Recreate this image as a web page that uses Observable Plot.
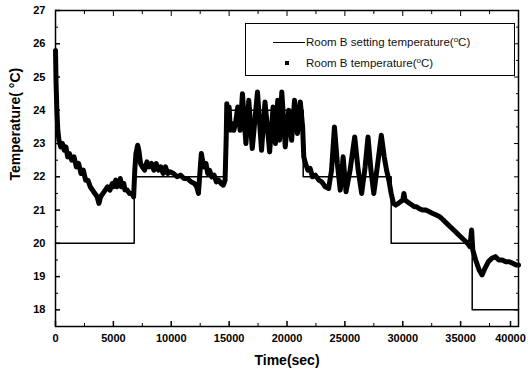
<!DOCTYPE html>
<html><head><meta charset="utf-8">
<script src="https://cdn.jsdelivr.net/npm/d3@7"></script>
<script src="https://cdn.jsdelivr.net/npm/@observablehq/plot@0.6"></script>
<style>
body{margin:0;background:#fff;}
#wrap{position:relative;width:528px;height:378px;font-family:"Liberation Sans",Arial,sans-serif;overflow:hidden;}
#legend{position:absolute;left:245px;top:23px;width:270px;height:53px;border:1.5px solid #000;box-sizing:border-box;background:#fff;font-size:11.5px;color:#111;}
.row{position:absolute;left:0;height:14px;line-height:14px;white-space:nowrap;}
.lbl{position:absolute;left:60px;top:0;}
.lbl sup{font-size:8px;vertical-align:4px;line-height:0;}
.smp{position:absolute;left:27px;top:7px;width:32px;border-top:1px solid #000;}
.mk{position:absolute;left:39px;top:5px;width:4px;height:4px;background:#000;}
</style>
</head><body>
<div id="wrap"></div>
<script>
// Setting temperature (step function)
const setTime = [0, 6800, 14700, 21400, 29000, 36000, 40000];
const setTemp = [20, 22, 24, 22, 20, 18, 18];

// Measured room temperature
const roomTime = [0,50,120,200,300,450,600,750,900,1050,1200,1400,1600,1800,2000,2200,2400,2600,2800,3000,3200,3400,3600,3750,3900,4100,4300,4500,4700,4900,5000,5200,5300,5500,5600,5700,5900,6000,6200,6400,6600,6750,
6850,6950,7100,7200,7350,7500,7700,7900,8100,8300,8500,8700,8900,9100,9300,9500,9700,9900,10200,10500,10800,11100,11400,11700,12000,12200,12350,12450,12600,12700,12850,13000,13150,13300,13500,13700,13900,14100,14300,14500,14650,
14750,14800,14900,15000,15100,15250,15400,15550,15750,15950,16150,16450,16700,17000,17450,17800,18100,18500,18800,19000,19200,19350,19550,19850,20150,20400,20650,20900,21150,21350,
21450,21600,21800,22000,22200,22450,22750,23000,23300,23600,23850,24100,24350,24600,24850,25100,25450,25850,26150,26450,26750,27000,27250,27500,27800,28150,28400,28600,28800,29000,29200,29400,29600,29800,30000,30100,30200,30400,30600,30800,31000,31200,31400,31700,32000,32300,32600,32900,33200,33500,33800,34100,34400,34700,35000,35300,35600,35800,35950,36050,36300,36600,36850,37100,37400,37700,38000,38300,38600,38900,39200,39500,39800,40000];
const roomTemp = [25.8,24.8,24.0,23.4,23.1,22.9,23.0,22.8,22.9,22.6,22.7,22.5,22.6,22.3,22.4,22.1,22.2,21.9,21.9,21.7,21.6,21.5,21.4,21.2,21.4,21.5,21.6,21.7,21.6,21.8,21.7,21.9,21.7,21.8,21.95,21.7,21.8,21.6,21.6,21.5,21.5,21.4,
22.2,22.7,22.95,22.8,22.4,22.3,22.2,22.45,22.3,22.4,22.2,22.4,22.2,22.3,22.1,22.3,22.1,22.15,22.1,22.0,22.05,21.95,21.95,21.85,21.8,21.7,21.5,22.0,22.7,22.5,22.3,22.4,22.1,22.2,22.0,22.05,21.85,21.9,21.8,21.75,21.9,
23.2,24.2,23.6,24.1,23.4,23.6,23.4,23.6,24.1,23.4,24.5,23.0,24.3,22.85,24.55,22.8,24.25,22.75,24.1,23.0,24.3,23.1,24.55,22.9,24.0,23.1,24.3,23.3,24.25,23.5,
22.6,22.4,22.2,22.25,22.0,22.05,21.9,21.85,21.7,21.65,22.2,23.5,22.4,21.6,22.6,21.55,22.2,23.2,22.2,21.5,22.3,23.2,22.2,21.5,22.3,23.25,22.6,22.2,21.9,21.5,21.2,21.15,21.2,21.25,21.3,21.5,21.3,21.25,21.2,21.15,21.1,21.1,21.05,21.0,21.0,20.95,20.9,20.85,20.8,20.7,20.6,20.5,20.4,20.3,20.2,20.1,20.0,19.9,20.4,19.8,19.5,19.2,19.05,19.25,19.45,19.55,19.6,19.5,19.5,19.45,19.45,19.4,19.35,19.35];

// Ticks
const xMajor = [0,5000,10000,15000,20000,25000,30000,35000,40000];
const xMinor = [2500,7500,12500,17500,22500,27500,32500,37500];
const yMajor = [18,19,20,21,22,23,24,25,26,27];
const yMinor = [17.5,18.5,19.5,20.5,21.5,22.5,23.5,24.5,25.5,26.5];

const setData = setTime.map((t,i)=>({t, v:setTemp[i]}));
const roomData = roomTime.map((t,i)=>({t, v:roomTemp[i]}));
const blank = () => "";

const chart = Plot.plot({
  width: 528, height: 378,
  marginLeft: 55, marginRight: 10, marginTop: 10, marginBottom: 52,
  style: {fontFamily: "'Liberation Sans', Arial, sans-serif", fontSize: "11px", fontWeight: "bold", color: "#000", background: "#fff"},
  x: {domain: [0, 40000]},
  y: {domain: [17.5, 27]},
  marks: [
    Plot.line(roomData, {x: "t", y: "v", stroke: "#000", strokeWidth: 5, strokeLinejoin: "round"}),
    Plot.line(setData, {x: "t", y: "v", curve: "step-after", stroke: "#000", strokeWidth: 1.5}),
    Plot.axisX({ticks: xMajor.slice(0, -1), tickSize: -5, tickPadding: 13, tickFormat: d => String(d), label: null, strokeWidth: 1.5}),
    Plot.axisX({ticks: xMajor.slice(-1), tickSize: -5, tickPadding: 13, tickFormat: d => String(d), label: null, strokeWidth: 1.5, dx: -8}),
    Plot.axisX({ticks: xMinor, tickSize: -3, tickFormat: blank, label: null}),
    Plot.axisX({ticks: xMajor, anchor: "top", tickSize: -5, tickFormat: blank, label: null}),
    Plot.axisX({ticks: xMinor, anchor: "top", tickSize: -3, tickFormat: blank, label: null}),
    Plot.axisY({ticks: yMajor, tickSize: -5, tickPadding: 15, tickFormat: d => String(d), label: null, strokeWidth: 1.5}),
    Plot.axisY({ticks: yMinor, tickSize: -3, tickFormat: blank, label: null}),
    Plot.axisY({ticks: yMajor, anchor: "right", tickSize: -5, tickFormat: blank, label: null}),
    Plot.axisY({ticks: yMinor, anchor: "right", tickSize: -3, tickFormat: blank, label: null}),
    Plot.frame({stroke: "#000", strokeWidth: 1.5}),
    Plot.text(["Time(sec)"], {frameAnchor: "bottom", dy: 38, fontSize: 14, fontWeight: "bold"}),
    Plot.text(["Temperature( °C)"], {frameAnchor: "left", dx: -40, dy: 12, rotate: -90, fontSize: 14, fontWeight: "bold"})
  ]
});
const wrap = document.getElementById("wrap");
wrap.appendChild(chart);
const leg = document.createElement("div");
leg.id = "legend";
leg.innerHTML = `<div class="row" style="top:11px"><div class="smp"></div><div class="lbl">Room B setting temperature(<sup>o</sup>C)</div></div>
<div class="row" style="top:32px"><div class="mk"></div><div class="lbl">Room B temperature(<sup>o</sup>C)</div></div>`;
wrap.appendChild(leg);
</script>
</body></html>
